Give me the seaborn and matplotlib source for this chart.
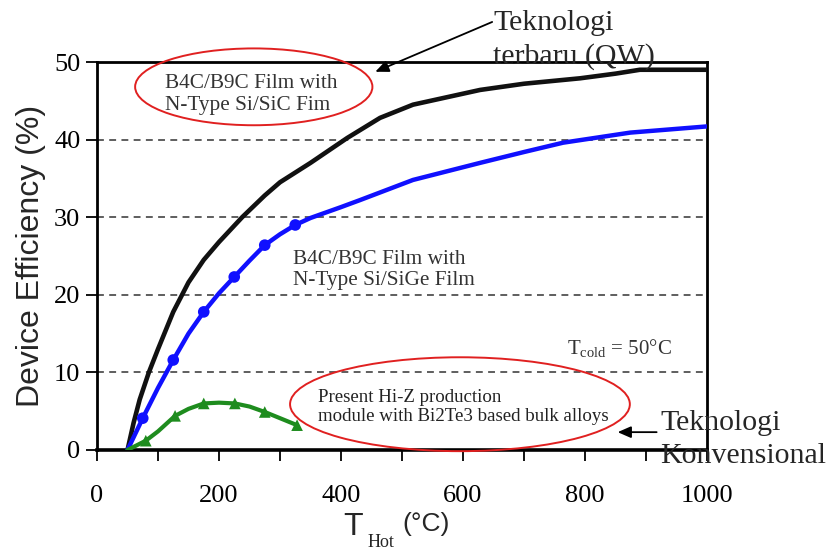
import matplotlib
matplotlib.use("Agg")
import matplotlib.pyplot as plt
import seaborn as sns
import pandas as pd
from matplotlib.patches import Ellipse

# ---- data ----
black_T = [50, 60, 70, 85, 100, 125, 150, 175, 200, 238, 275, 300, 350, 410, 464, 518, 628, 700, 792, 850, 890, 1000]
black_E = [0, 3.5, 6.5, 10, 13, 17.8, 21.6, 24.5, 26.8, 30, 32.8, 34.5, 37, 40.2, 42.8, 44.5, 46.4, 47.2, 47.9, 48.5, 49, 49]

blue_T = [50, 75, 100, 125, 150, 175, 200, 225, 250, 275, 300, 325, 350, 400, 431, 518, 628, 700, 764, 874, 1000]
blue_E = [0, 4.1, 8, 11.6, 15, 17.8, 20.2, 22.3, 24.4, 26.4, 27.8, 29, 29.9, 31.3, 32.2, 34.8, 37, 38.4, 39.6, 40.9, 41.7]
blue_mT = [75, 125, 175, 225, 275, 325]
blue_mE = [4.1, 11.6, 17.8, 22.3, 26.4, 29]

green_T = [50, 80, 100, 128, 150, 175, 200, 226, 250, 275, 300, 328]
green_E = [0, 1.2, 2.4, 4.4, 5.3, 6.0, 6.1, 6.0, 5.6, 4.9, 4.1, 3.2]
green_mT = [80, 128, 175, 226, 275, 328]
green_mE = [1.2, 4.4, 6.0, 6.0, 4.9, 3.2]

x_major = [0, 200, 400, 600, 800, 1000]
x_minor = [100, 300, 500, 700, 900]
y_ticks = [0, 10, 20, 30, 40, 50]
grid_levels = [10, 20, 30, 40]

sns.set_style("white")
plt.rcParams["font.family"] = ["Liberation Serif", "DejaVu Serif"]
SANS = ["Liberation Sans", "DejaVu Sans"]

fig = plt.figure(figsize=(8.3, 5.5), dpi=100)
ax = fig.add_axes([97/830, 100/550, 610/830, 388/550])

# dashed horizontal grid lines
for yv in grid_levels:
    ax.axhline(yv, color="#333333", ls=(0, (4.5, 3.5)), lw=1.1, zorder=1)

df_b = pd.DataFrame({"T": black_T, "E": black_E})
df_u = pd.DataFrame({"T": blue_T, "E": blue_E})
df_g = pd.DataFrame({"T": green_T, "E": green_E})

sns.lineplot(data=df_b, x="T", y="E", ax=ax, color="#111111", lw=3.3, zorder=4, estimator=None, sort=False)
sns.lineplot(data=df_u, x="T", y="E", ax=ax, color="#1010ff", lw=3.2, zorder=4, estimator=None, sort=False)
sns.lineplot(data=df_g, x="T", y="E", ax=ax, color="#1e8c1e", lw=3.0, zorder=4, estimator=None, sort=False)
sns.scatterplot(x=blue_mT, y=blue_mE, ax=ax, color="#1010ff", marker="o", s=70, edgecolor="none", zorder=5)
sns.scatterplot(x=green_mT, y=green_mE, ax=ax, color="#1e8c1e", marker="^", s=70, edgecolor="none", zorder=5)

ax.set_xlim(0, 1000)
ax.set_ylim(0, 50)
ax.set_xticks(x_major)
ax.set_xticks(x_minor, minor=True)
ax.set_yticks(y_ticks)
ax.set_xticklabels([str(v) for v in x_major], fontsize=19, family="Liberation Serif")
ax.set_yticklabels([str(v) for v in y_ticks], fontsize=19, family="Liberation Serif")
ax.tick_params(axis="x", which="both", direction="out", length=8, width=1.3, pad=17, colors="k")
ax.tick_params(axis="y", which="both", direction="out", length=8, width=1.3, pad=4, colors="k")
ax.tick_params(axis="both", which="both", bottom=True, left=True)
for s in ax.spines.values():
    s.set_color("k")
    s.set_linewidth(2.0)
ax.spines["bottom"].set_linewidth(2.6)

ax.set_xlabel("")
ax.set_ylabel("Device Efficiency (%)", fontsize=23, family=SANS, labelpad=6)

# x label: T_Hot (°C)
fig.text(343/830, 1 - 535/550, "T", fontsize=23, family=SANS, ha="left", va="baseline")
fig.text(368/830, 1 - 547/550, "Hot", fontsize=13, family="Liberation Serif", ha="left", va="baseline")
fig.text(402/830, 1 - 531/550, "(°C)", fontsize=19, family=SANS, ha="left", va="baseline")

# ellipse annotations
e1 = Ellipse((257, 46.8), 389, 9.9, fill=False, edgecolor="#e02020", lw=1.4, clip_on=False, zorder=6)
ax.add_patch(e1)
ax.text(111, 45.8, "B4C/B9C Film with\nN-Type Si/SiC Fim", fontsize=15.3, color="#333333",
        ha="left", va="center", linespacing=1.2, zorder=7)

ax.text(321, 23.2, "B4C/B9C Film with\nN-Type Si/SiGe Film", fontsize=15.3, color="#333333",
        ha="left", va="center", linespacing=1.2, zorder=7)

ax.text(770, 13.1, r"T$_{\mathregular{cold}}$ = 50°C", fontsize=15, color="#333333",
        ha="left", va="center", zorder=7)

e2 = Ellipse((595, 5.9), 557, 12.1, fill=False, edgecolor="#e02020", lw=1.4, clip_on=False, zorder=6)
ax.add_patch(e2)
ax.text(362, 5.5, "Present Hi-Z production\nmodule with Bi2Te3 based bulk alloys", fontsize=13.6,
        color="#222222", ha="left", va="center", linespacing=1.15, zorder=7)

# arrows and outer texts
ax.annotate("", xy=(452, 48.6), xytext=(652, 55.3), xycoords="data", textcoords="data",
            arrowprops=dict(arrowstyle="-|>,head_length=0.8,head_width=0.35", color="k", lw=1.3),
            annotation_clip=False, zorder=8)
fig.text(493/830, 1 - 30/550, "Teknologi", fontsize=21.5, ha="left", va="baseline")
fig.text(493/830, 1 - 64/550, "terbaru (QW)", fontsize=21.5, ha="left", va="baseline")

ax.annotate("", xy=(849, 2.3), xytext=(922, 2.3), xycoords="data", textcoords="data",
            arrowprops=dict(arrowstyle="-|>,head_length=0.8,head_width=0.35", color="k", lw=1.3),
            annotation_clip=False, zorder=8)
fig.text(660/830, 1 - 430/550, "Teknologi", fontsize=21.5, ha="left", va="baseline")
fig.text(660/830, 1 - 463/550, "Konvensional", fontsize=21.5, ha="left", va="baseline")

fig.savefig("out.png", dpi=100, facecolor="white")
